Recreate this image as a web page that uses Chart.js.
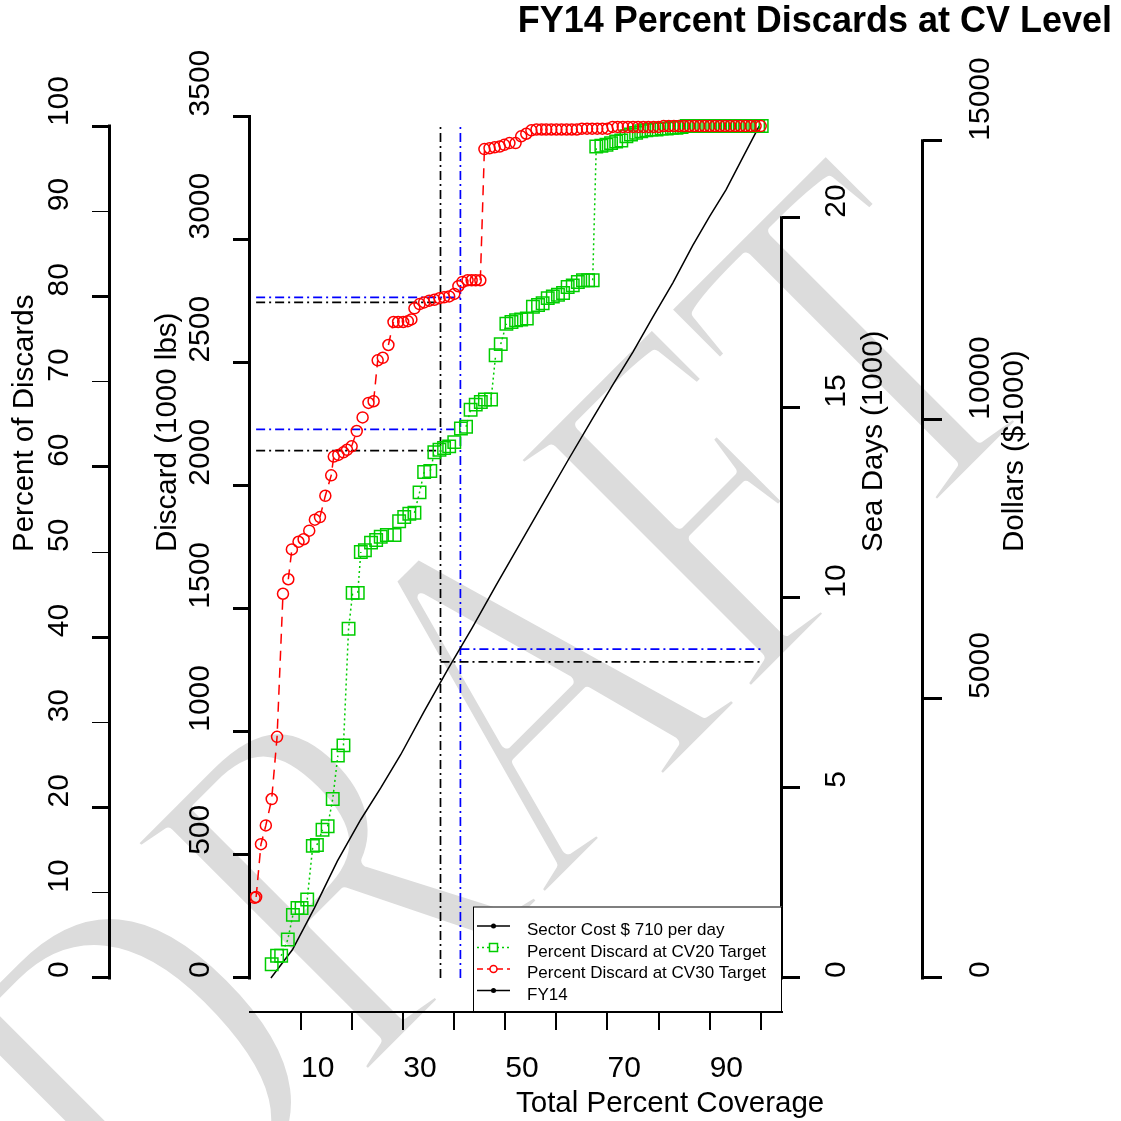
<!DOCTYPE html>
<html><head><meta charset="utf-8">
<style>html,body{margin:0;padding:0;background:#fff;}canvas{display:block;}</style>
<script src="https://cdn.jsdelivr.net/npm/chart.js@4.4.1/dist/chart.umd.min.js"></script>
</head><body>
<canvas id="c" width="1121" height="1121"></canvas>
<script>
// ---------- data ----------
const chartTitle = 'FY14 Percent Discards at CV Level';
const xTitle = 'Total Percent Coverage';
const yTitles = ['Percent of Discards', 'Discard (1000 lbs)', 'Sea Days (1000)', 'Dollars ($1000)'];
const legendLabels = ['Sector Cost $ 710 per day', 'Percent Discard at CV20 Target', 'Percent Discard at CV30 Target', 'FY14'];
const watermarkText = 'DRAFT';

const xTicks = [10, 20, 30, 40, 50, 60, 70, 80, 90, 100];
const xTickLabels = ['10', '', '30', '', '50', '', '70', '', '90', ''];
const pctTicks = [0, 10, 20, 30, 40, 50, 60, 70, 80, 90, 100];
const discardTicks = [0, 500, 1000, 1500, 2000, 2500, 3000, 3500];
const seaDayTicks = [0, 5, 10, 15, 20];
const dollarTicks = [0, 5000, 10000, 15000];

// CV30 target (red circles), x = total percent coverage, y = percent of discards
const cv30X = [0.9, 1.2, 2.15, 3.1, 4.25, 5.3, 6.46, 7.5, 8.2, 9.5, 10.5, 11.6, 12.7, 13.7, 14.75, 15.9,
  16.4, 17.3, 18.3, 19.0, 19.9, 20.9, 22.05, 23.2, 24.2, 25.0, 26.0, 27.1, 28.1, 29.0, 30.0, 30.9, 31.6,
  32.2, 33.2, 34.1, 35.1, 36.1, 37.1, 38.0, 39.0, 40.0, 40.8, 41.6, 42.6, 43.4, 44.2, 45.1,
  45.9, 46.9, 47.9, 48.9, 49.8, 50.8, 52.0, 53.1, 54.1, 55.1,
  56.1, 57.1, 58.0, 59.0, 60.0, 61.0, 62.0, 63.0, 64.0,
  65, 66, 67, 68, 69, 70, 71, 72, 73, 74, 75, 76, 77, 78, 79, 80, 81, 82, 83, 84, 85, 86, 87, 88, 89, 90,
  91, 92, 93, 94, 95, 96, 97, 98, 99, 100];
const cv30Y = [9.4, 9.5, 15.7, 17.9, 21.0, 28.3, 45.1, 46.8, 50.3, 51.2, 51.5, 52.5, 53.8, 54.1, 56.6, 59.0,
  61.2, 61.4, 61.7, 62.0, 62.4, 64.2, 65.8, 67.5, 67.7, 72.5, 72.8, 74.3, 77.0, 77.0, 77.0, 77.1, 77.3,
  78.6, 79.1, 79.3, 79.5, 79.6, 79.8, 79.9, 80.0, 80.3, 81.2, 81.7, 81.9, 81.9, 81.9, 81.9,
  97.3, 97.4, 97.5, 97.6, 97.8, 98.0, 98.0, 98.8, 99.1, 99.5,
  99.6, 99.6, 99.6, 99.6, 99.6, 99.6, 99.6, 99.6, 99.6,
  99.7, 99.7, 99.7, 99.7, 99.7, 99.7, 99.9, 99.9, 99.9, 99.9, 99.9, 99.9, 99.9, 99.9, 99.9, 99.9,
  100, 100, 100, 100, 100, 100, 100, 100, 100, 100, 100, 100, 100, 100, 100, 100, 100, 100, 100, 100];

// CV20 target (green squares)
const cv20X = [4.25, 5.3, 6.1, 7.4, 8.4, 9.3, 10.1, 11.2, 12.3, 13.1, 14.2, 15.2, 16.2, 17.2, 18.3, 19.3, 20.1, 21.1,
  21.7, 22.5, 23.7, 24.7, 25.6, 26.8, 28.3, 29.2, 30.2, 31.2, 32.2, 33.2, 34.1, 35.3,
  36.1, 37.1, 38.0, 39.0, 40.0, 41.3, 42.3, 43.2, 44.2, 45.2, 46.0, 47.2,
  48.1, 49.1, 50.2, 51.2, 52.1, 53.1, 54.2, 55.4, 56.4, 57.3, 58.3, 59.3, 60.3, 61.3, 62.2, 63.2, 64.2, 65.2, 66.2, 67.1,
  67.8, 68.8, 69.8, 70.7, 71.7, 72.7, 73.7, 74.6, 75.6, 76.6,
  77.6, 78.6, 79.6, 80.6, 81.6, 82.6, 83.5, 84.5,
  85.5, 86.5, 87.5, 88.5, 89.5, 90.5, 91.5, 92.5, 93.5, 94.5, 95.5, 96.5, 97.5, 98.5, 99.5, 100.2];
const cv20Y = [1.6, 2.6, 2.6, 4.5, 7.4, 8.2, 8.2, 9.2, 15.5, 15.6, 17.4, 17.8, 21.0, 26.1, 27.3, 41.0, 45.2, 45.2,
  50.0, 50.2, 51.1, 51.4, 51.8, 52.0, 52.0, 53.6, 54.1, 54.5, 54.6, 57.0, 59.4, 59.5,
  61.7, 62.0, 62.2, 62.4, 62.9, 64.5, 64.7, 66.7, 67.3, 67.6, 67.9, 67.9,
  73.1, 74.4, 76.8, 77.0, 77.2, 77.3, 77.4, 78.8, 79.0, 79.2, 79.8, 80.0, 80.2, 80.4, 81.1, 81.3, 81.7, 81.9, 81.9, 81.9,
  97.6, 97.7, 97.8, 98.0, 98.2, 98.3, 98.8, 99.0, 99.2, 99.4,
  99.5, 99.6, 99.6, 99.7, 99.7, 99.8, 99.8, 99.9,
  100, 100, 100, 100, 100, 100, 100, 100, 100, 100, 100, 100, 100, 100, 100, 100];

// FY14 / sector cost line (cumulative, percent scale)
const fy14X = [4.1, 8.3, 12.6, 17.1, 21.7, 25.6, 29.5, 34.1, 38.7, 43.5, 48.2, 52.9, 57.6, 62.3, 67.1, 71.0, 75.0, 78.9, 82.8, 86.7, 90.0, 93.2, 96.4, 99.7];
const fy14Y = [0, 3.3, 8.2, 13.7, 18.6, 22.3, 26.2, 31.3, 36.2, 41.1, 46.1, 51.0, 55.9, 60.8, 65.7, 69.6, 73.5, 77.6, 81.6, 86.0, 89.4, 92.5, 96.2, 100];

// target reference lines: [black (CV30), blue (CV20)]
const coverageAtTarget = [37.3, 41.2];
const cv30AtTarget = [79.3, 79.9];
const cv20AtTarget = [61.9, 64.4];
const seaDaysAtTarget = [37.1, 38.6];
const refStartX = 1.2;
const refEndX = 100.2;

// ---------- chart ----------
const FONT = 'Liberation Sans';
const pts = (xs, ys) => xs.map((x, i) => ({x: x, y: ys[i]}));
const hideShort = color => c => (Math.hypot(c.p1.x - c.p0.x, c.p1.y - c.p0.y) < 16 ? 'rgba(0,0,0,0)' : color);
const refColors = ['#000000', '#0000ff'];
const DASHDOT = [9, 4, 2, 4];

const datasets = [
  {data: pts(cv30X, cv30Y), showLine: true, borderColor: '#ff0000', borderWidth: 1.5, borderDash: [10, 7],
   pointStyle: 'circle', pointRadius: 5.5, pointBorderWidth: 1.5, pointBorderColor: '#ff0000',
   pointBackgroundColor: 'rgba(0,0,0,0)', segment: {borderColor: hideShort('#ff0000')}, order: 0, yAxisID: 'yP'},
  {data: pts(cv20X, cv20Y), showLine: true, borderColor: '#00cd00', borderWidth: 1.5, borderDash: [2, 3],
   pointStyle: 'rect', pointRadius: 8.8, pointBorderWidth: 1.5, pointBorderColor: '#00cd00',
   pointBackgroundColor: 'rgba(0,0,0,0)', segment: {borderColor: hideShort('#00cd00')}, order: 1, yAxisID: 'yP'},
  {data: pts(fy14X, fy14Y), showLine: true, borderColor: '#000', borderWidth: 1.5, pointRadius: 0, order: 2, yAxisID: 'yP'}
];
coverageAtTarget.forEach((cx, i) => {
  const base = {showLine: true, borderColor: refColors[i], borderWidth: 1.7, borderDash: DASHDOT, pointRadius: 0, order: 3, yAxisID: 'yP'};
  datasets.push(Object.assign({}, base, {data: [{x: cx, y: 0}, {x: cx, y: 100}]}));
  datasets.push(Object.assign({}, base, {data: [{x: refStartX, y: cv30AtTarget[i]}, {x: cx, y: cv30AtTarget[i]}]}));
  datasets.push(Object.assign({}, base, {data: [{x: refStartX, y: cv20AtTarget[i]}, {x: cx, y: cv20AtTarget[i]}]}));
  datasets.push(Object.assign({}, base, {data: [{x: cx, y: seaDaysAtTarget[i]}, {x: refEndX, y: seaDaysAtTarget[i]}]}));
});

function setTicks(vals) { return s => { s.ticks = vals.map(v => ({value: v})); }; }
function yAxis(pos, weight, min, max, ticks, labels, width, pad, mirror, tl, tw) {
  return {
    type: 'linear', position: pos, weight: weight, min: min, max: max,
    afterBuildTicks: setTicks(ticks), afterFit: s => { s.width = width; },
    border: {display: false},
    grid: {display: true, drawOnChartArea: false, drawTicks: true, tickLength: tl,
      tickWidth: tw, lineWidth: tw, tickColor: '#000', color: '#000'},
    ticks: {autoSkip: false, mirror: mirror, crossAlign: 'near', padding: pad, minRotation: 90, maxRotation: 90,
      color: '#000', font: {family: FONT, size: 30}, callback: (v, i) => labels[i]}
  };
}

const vtext = (ctx, t, x, y) => { ctx.save(); ctx.translate(x, y); ctx.rotate(-Math.PI / 2);
  ctx.textAlign = 'left'; ctx.textBaseline = 'alphabetic'; ctx.fillText(t, 0, 0); ctx.restore(); };

const extras = {
  id: 'extras',
  beforeDraw(chart) {
    const ctx = chart.ctx;
    ctx.save();
    ctx.fillStyle = '#fff';
    ctx.fillRect(0, 0, chart.width, chart.height);
    ctx.translate(612, 832);
    ctx.rotate(-Math.PI / 4);
    ctx.scale(1, 1.3);
    ctx.font = '390px "Liberation Serif"';
    ctx.textAlign = 'center';
    ctx.textBaseline = 'alphabetic';
    ctx.fillStyle = '#dcdcdc';
    ctx.fillText(watermarkText, 0, 0);
    ctx.strokeStyle = '#fff';
    ctx.lineJoin = 'round';
    ctx.lineWidth = 9;
    ctx.strokeText(watermarkText, 0, 0);
    ctx.restore();
  },
  beforeDatasetsDraw(chart) {
    const ctx = chart.ctx;
    ctx.save();
    ctx.strokeStyle = '#000';
    ctx.lineWidth = 3;
    ['yP', 'yD', 'yS', 'yM'].forEach(id => {
      const s = chart.scales[id];
      const t = s.ticks;
      const x = Math.round(s.options.position === 'left' ? s.right : s.left) - 0.5;
      ctx.beginPath();
      ctx.moveTo(x, s.getPixelForValue(t[0].value) + 1.5);
      ctx.lineTo(x, s.getPixelForValue(t[t.length - 1].value) - 1.5);
      ctx.stroke();
    });
    ctx.restore();
  },
  afterDraw(chart) {
    const ctx = chart.ctx;
    ctx.save();
    // axis titles
    ctx.fillStyle = '#000';
    ctx.font = '29.5px "' + FONT + '"';
    vtext(ctx, yTitles[0], 33.3, 552);
    vtext(ctx, yTitles[1], 175.5, 552);
    vtext(ctx, yTitles[2], 882, 552);
    vtext(ctx, yTitles[3], 1023, 552);
    ctx.textAlign = 'left'; ctx.textBaseline = 'alphabetic';
    ctx.fillText(xTitle, 516, 1112);
    // legend
    const L = 473, T = 906.5, R = 782, B = 1012;
    ctx.fillStyle = '#fff'; ctx.fillRect(L, T, R - L, B - T);
    ctx.strokeStyle = '#000'; ctx.lineWidth = 1; ctx.strokeRect(L + 0.5, T + 0.5, R - L - 1, B - T - 1);
    const styles = [{c: '#000', d: [], m: 'dot'}, {c: '#00cd00', d: [2, 3], m: 'sq'},
                    {c: '#ff0000', d: [6, 4], m: 'ci'}, {c: '#000', d: [], m: 'dot'}];
    legendLabels.forEach((lab, i) => {
      const y = 926 + i * 21.5, st = styles[i];
      ctx.strokeStyle = st.c; ctx.lineWidth = 1.5; ctx.setLineDash(st.d);
      ctx.beginPath(); ctx.moveTo(477, y); ctx.lineTo(510, y); ctx.stroke();
      ctx.setLineDash([]);
      if (st.m === 'dot') { ctx.fillStyle = st.c; ctx.beginPath(); ctx.arc(493.5, y, 2.5, 0, 2 * Math.PI); ctx.fill(); }
      else if (st.m === 'sq') { ctx.fillStyle = '#fff'; ctx.fillRect(489.5, y - 4, 8, 8); ctx.strokeRect(489.5, y - 4, 8, 8); }
      else { ctx.fillStyle = '#fff'; ctx.beginPath(); ctx.arc(493.5, y, 3.5, 0, 2 * Math.PI); ctx.fill(); ctx.stroke(); }
      ctx.fillStyle = '#000'; ctx.font = '17px "' + FONT + '"';
      ctx.textAlign = 'left'; ctx.textBaseline = 'alphabetic';
      ctx.fillText(lab, 527, y + 9);
    });
    ctx.restore();
  }
};

new Chart(document.getElementById('c'), {
  type: 'scatter',
  data: {datasets: datasets},
  plugins: [extras],
  options: {
    responsive: false, animation: false, events: [],
    layout: {padding: {left: 0, right: 9, top: 0, bottom: 0}},
    plugins: {
      legend: {display: false}, tooltip: {enabled: false},
      title: {display: true, text: chartTitle, align: 'end', color: '#000',
        font: {family: FONT, size: 36, weight: 'bold'}, padding: {top: 0, bottom: 48.8}}
    },
    scales: {
      x: {type: 'linear', position: 'bottom', min: 0, max: 104.17,
        afterBuildTicks: setTicks(xTicks), afterFit: s => { s.height = 109; },
        border: {display: true, color: '#000', width: 2},
        grid: {display: true, drawOnChartArea: false, drawTicks: true, tickLength: 18, tickWidth: 2, lineWidth: 2, tickColor: '#000', color: '#000'},
        ticks: {autoSkip: false, align: 'start', minRotation: 0, maxRotation: 0, padding: 21, color: '#000',
          font: {family: FONT, size: 30}, callback: (v, i) => xTickLabels[i]}},
      yP: yAxis('left', 1, -4, 104, pctTicks, pctTicks.map(String), 110, -50, true, 18,
        c => (c.tick && c.tick.value % 20 !== 0 ? 1 : 3)),
      yD: yAxis('left', 0, -138.6, 3599.5, discardTicks, discardTicks.map(String), 140, -49, true, 17, 3),
      yS: yAxis('right', 0, -0.897, 23.307, seaDayTicks, seaDayTicks.map(String), 141, 37, false, 18, 3),
      yM: yAxis('right', 1, -611, 15872.6, dollarTicks, dollarTicks.map(String), 189, 39, false, 19, 3)
    }
  }
});
</script>
</body></html>
